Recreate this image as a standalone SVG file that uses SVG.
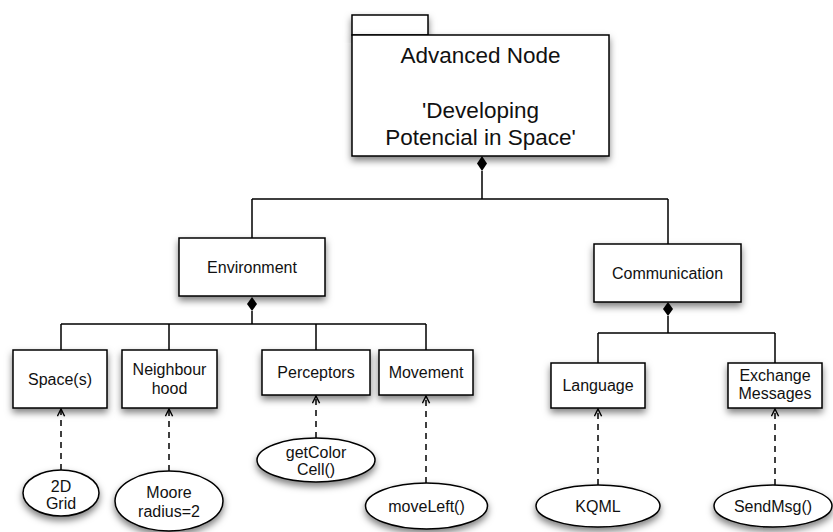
<svg xmlns="http://www.w3.org/2000/svg" width="833" height="532" viewBox="0 0 833 532">
  <style>
    .box { fill: #ffffff; stroke: #000000; stroke-width: 1.5; filter: url(#shadow); }
    .line { fill: none; stroke: #000000; stroke-width: 1.5; }
    .dep { fill: none; stroke: #000000; stroke-width: 1.5; stroke-dasharray: 6 5; marker-end: url(#open); }
    .diamond { fill: #000000; stroke: none; }
    text { font-family: "Liberation Sans", Arial, Helvetica, sans-serif; font-size: 16px; fill: #111111; text-anchor: middle; }
    .title { font-size: 22.5px; }
  </style>
  <defs>
    <filter id="shadow" x="-20%" y="-20%" width="140%" height="160%">
      <feDropShadow dx="0" dy="4" stdDeviation="3.5" flood-color="#000000" flood-opacity="0.5"/>
    </filter>
    <marker id="open" viewBox="0 0 10 10" refX="9" refY="5" markerWidth="9" markerHeight="9" markerUnits="userSpaceOnUse" orient="auto">
      <path d="M1,1 L9,5 L1,9" fill="none" stroke="#000000" stroke-width="1.6"/>
    </marker>
  </defs>

  <rect width="833" height="532" fill="#ffffff"/>

  <!-- connectors -->
  <g id="connectors">
    <!-- package composition -->
    <polygon class="diamond" points="482,156 487,163.5 482,171 477,163.5"/>
    <path class="line" d="M482,171 V199 M252,199 H668 M252,199 V238 M668,199 V244"/>
    <!-- environment composition -->
    <polygon class="diamond" points="252,297 257,304 252,311 247,304"/>
    <path class="line" d="M252,311 V324 M61,324 H426 M61,324 V350 M169,324 V350 M316,324 V350 M426,324 V350"/>
    <!-- communication composition -->
    <polygon class="diamond" points="668,302 673,309 668,316 663,309"/>
    <path class="line" d="M668,316 V333 M598,333 H775 M598,333 V363 M775,333 V363"/>
    <!-- dependencies -->
    <line class="dep" x1="61" y1="470" x2="61" y2="409"/>
    <line class="dep" x1="169" y1="471" x2="169" y2="409"/>
    <line class="dep" x1="316" y1="438" x2="316" y2="396"/>
    <line class="dep" x1="426" y1="483" x2="426" y2="396"/>
    <line class="dep" x1="598" y1="485" x2="598" y2="409"/>
    <line class="dep" x1="775" y1="485" x2="775" y2="409"/>
  </g>

  <g id="advanced-node">
    <rect class="box" x="352" y="15" width="76" height="20"/>
    <rect class="box" x="352" y="35" width="257" height="121"/>
    <text class="title" x="480.5" y="63">Advanced Node</text>
    <text class="title" x="480.5" y="118">'Developing</text>
    <text class="title" x="480.5" y="145">Potencial in Space'</text>
  </g>

  <g id="environment">
    <rect class="box" x="179" y="238" width="146" height="58"/>
    <text x="252" y="273">Environment</text>
  </g>

  <g id="communication">
    <rect class="box" x="594" y="244" width="147" height="58"/>
    <text x="667.5" y="279">Communication</text>
  </g>

  <g id="spaces">
    <rect class="box" x="13" y="350" width="94" height="58"/>
    <text x="60" y="385">Space(s)</text>
  </g>

  <g id="neighbourhood">
    <rect class="box" x="122" y="350" width="95" height="58"/>
    <text x="169.5" y="375">Neighbour</text>
    <text x="169.5" y="394">hood</text>
  </g>

  <g id="perceptors">
    <rect class="box" x="262" y="350" width="108" height="45"/>
    <text x="316" y="378">Perceptors</text>
  </g>

  <g id="movement">
    <rect class="box" x="379" y="350" width="94" height="45"/>
    <text x="426" y="378">Movement</text>
  </g>

  <g id="language">
    <rect class="box" x="551" y="363" width="94" height="45"/>
    <text x="598" y="391">Language</text>
  </g>

  <g id="exchange-messages">
    <rect class="box" x="728" y="363" width="94" height="45"/>
    <text x="775" y="381">Exchange</text>
    <text x="775" y="399">Messages</text>
  </g>

  <g id="grid-2d">
    <ellipse class="box" cx="61" cy="493" rx="38" ry="23"/>
    <text x="61" y="492">2D</text>
    <text x="61" y="509">Grid</text>
  </g>

  <g id="moore">
    <ellipse class="box" cx="169" cy="501" rx="54" ry="30"/>
    <text x="169" y="498">Moore</text>
    <text x="169" y="517">radius=2</text>
  </g>

  <g id="get-color-cell">
    <ellipse class="box" cx="316" cy="460" rx="59" ry="22"/>
    <text x="316" y="458">getColor</text>
    <text x="316" y="475">Cell()</text>
  </g>

  <g id="move-left">
    <ellipse class="box" cx="426.5" cy="506" rx="61" ry="23"/>
    <text x="426.5" y="512">moveLeft()</text>
  </g>

  <g id="kqml">
    <ellipse class="box" cx="598" cy="506" rx="62" ry="21"/>
    <text x="598" y="512">KQML</text>
  </g>

  <g id="send-msg">
    <ellipse class="box" cx="773" cy="506" rx="59" ry="21"/>
    <text x="773" y="512">SendMsg()</text>
  </g>
</svg>
